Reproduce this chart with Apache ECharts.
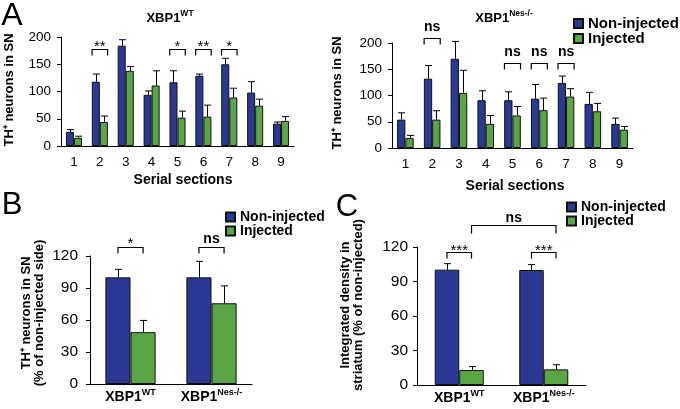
<!DOCTYPE html>
<html><head><meta charset="utf-8">
<script src="https://cdn.jsdelivr.net/npm/echarts@6/dist/echarts.min.js"></script>
<style>html,body{margin:0;padding:0;background:#fff}#c{width:680px;height:409px}</style>
</head><body><div id="c"></div>
<script>
// ---------- data ----------
const sections = ['1','2','3','4','5','6','7','8','9'];
const genotypes = ['WT','Nes-/-'];
const seriesNames = ['Non-injected','Injected'];
// Panel A, XBP1 WT
const wtNonInj    = [26,118,184,94,117,129,150,98,41];
const wtNonInjErr = [4,14,11,7,21,3,11,20,3];
const wtInj       = [15,44,138,111,52,54,89,74,46];
const wtInjErr    = [3,11,8,27,12,21,17,12,8];
// Panel A, XBP1 Nes-/-
const nesNonInj    = [54,132,170,91,91,94,124,84,46];
const nesNonInjErr = [13,25,33,18,16,27,13,22,11];
const nesInj       = [19,54,105,46,62,72,98,70,35];
const nesInjErr    = [5,17,43,16,17,23,15,15,6];
// Panel B (% of non-injected side)
const snNonInj    = [100,100];
const snNonInjErr = [7.5,15];
const snInj       = [48.6,75.7];
const snInjErr    = [11,16.3];
// Panel C (integrated density, % of non-injected)
const stNonInj    = [100.3,100];
const stNonInjErr = [5.2,4.7];
const stInj       = [13,13.6];
const stInjErr    = [3,4];
// tick values
const yTicksA = [0,50,100,150,200];
const yTicksBC = [0,30,60,90,120];
// significance brackets: [cat1, end1(-1 blue / 1 green), cat2, end2, level]
const sigA_WT = [[1,-1,1,1,178],[4,-1,4,1,178],[5,-1,5,1,178],[6,-1,6,1,178]];
const sigA_WT_lab = ['**','*','**','*'];
const sigA_Nes = [[1,-1,1,1,209],[4,-1,4,1,162],[5,-1,5,1,162],[6,-1,6,1,162]];
const sigA_Nes_lab = ['ns','ns','ns','ns'];
const sigB = [[0,-1,0,1,128],[1,-1,1,1,128]];
const sigB_lab = ['*','ns'];
const sigC = [[0,-1,0,1,115.6],[1,-1,1,1,115.6]];
const sigC_lab = ['***','***'];
const sigC2 = [[0,1,1,1,139]];
const sigC2_lab = ['ns'];

// ---------- styling ----------
const FF = 'Liberation Sans, Arial, Helvetica, sans-serif';
const BLUE = '#2b3894', GREEN = '#5aa646';
const chart = echarts.init(document.getElementById('c'), null, {renderer:'canvas'});

function errRender(gap, side){
  return function(params, api){
    const cat = api.value(0), m = api.value(1), e = api.value(2);
    const base = api.coord([cat, m]);
    const top = api.coord([cat, m + e]);
    const band = api.size([1,0])[0];
    const bw = band*(1-gap)/2;
    const x = Math.round(base[0] + side*bw/2) + 0.5;
    const cap = 3.5;
    return {type:'group', children:[
      {type:'line', shape:{x1:x,y1:base[1],x2:x,y2:top[1]}, style:{stroke:'#000',lineWidth:1}},
      {type:'line', shape:{x1:x-cap,y1:top[1],x2:x+cap,y2:top[1]}, style:{stroke:'#000',lineWidth:1}}
    ]};
  };
}
function bracketRender(frac, labels, leg, gapAbove){
  return function(params, api){
    const band = api.size([1,0])[0];
    const y = Math.round(api.coord([api.value(0), api.value(4)])[1]) + 0.5;
    const x1 = api.coord([api.value(0), 0])[0] + api.value(1)*band*frac;
    const x2 = api.coord([api.value(2), 0])[0] + api.value(3)*band*frac;
    const lab = labels[params.dataIndex];
    const ast = lab.indexOf('*') >= 0;
    const ty = y - gapAbove + (ast ? 4 : -1);
    return {type:'group', children:[
      {type:'polyline', shape:{points:[[x1,y+leg],[x1,y],[x2,y],[x2,y+leg]]}, style:{stroke:'#000',lineWidth:1.2,fill:null}},
      {type:'text', x:(x1+x2)/2, y:ty, style:{text:lab, align:'center', verticalAlign:'middle',
        font: ast ? ('15px '+FF) : ('bold 14px '+FF), fill:'#000'}}
    ]};
  };
}
function errData(cats, means, errs){ return cats.map((c,i)=>[i, means[i], errs[i]]); }

function xAx(grid, data, fs, margin, rich){
  const o = {type:'category', gridIndex:grid, data:data,
    axisLine:{lineStyle:{color:'#000',width:1}},
    axisTick:{length:4, lineStyle:{color:'#000'}},
    axisLabel:{color:'#000', fontSize:fs, fontFamily:FF, margin:margin, interval:0}};
  if (rich){
    o.axisLabel.formatter = v => '{b|XBP1}{s|' + v + '}';
    o.axisLabel.rich = {b:{fontSize:14,fontWeight:'bold',fontFamily:FF,color:'#000',lineHeight:16,verticalAlign:'bottom'},
                        s:{fontSize:9,fontWeight:'bold',fontFamily:FF,color:'#000',verticalAlign:'top',lineHeight:16}};
  }
  return o;
}
function yAx(grid, ticks, fs, margin){
  return {type:'value', gridIndex:grid, min:ticks[0], max:ticks[ticks.length-1], interval:ticks[1]-ticks[0],
    splitLine:{show:false},
    axisLine:{show:true, lineStyle:{color:'#000',width:1}},
    axisTick:{show:true, length:4, lineStyle:{color:'#000'}},
    axisLabel:{color:'#000', fontSize:fs, fontFamily:FF, margin:margin}};
}
function bars(grid, nonInj, inj, gap){
  const st = c => ({color:c, borderColor:'#111', borderWidth:1});
  return [
    {type:'bar', name:seriesNames[0], xAxisIndex:grid, yAxisIndex:grid, data:nonInj, barGap:'0%', barCategoryGap:gap+'%', itemStyle:st(BLUE), emphasis:{disabled:true}},
    {type:'bar', name:seriesNames[1], xAxisIndex:grid, yAxisIndex:grid, data:inj, barGap:'0%', barCategoryGap:gap+'%', itemStyle:st(GREEN), emphasis:{disabled:true}}
  ];
}
function errs(grid, cats, nonInj, nonInjErr, inj, injErr, gap){
  return [
    {type:'custom', xAxisIndex:grid, yAxisIndex:grid, data:errData(cats, nonInj, nonInjErr), renderItem:errRender(gap/100,-1), z:5, silent:true},
    {type:'custom', xAxisIndex:grid, yAxisIndex:grid, data:errData(cats, inj, injErr), renderItem:errRender(gap/100,1), z:5, silent:true}
  ];
}
function brackets(grid, data, labels, frac, leg, gapAbove){
  return {type:'custom', xAxisIndex:grid, yAxisIndex:grid, data:data, renderItem:bracketRender(frac, labels, leg, gapAbove), z:6, silent:true, clip:false};
}
function legend(left, top, fs){
  return {data:seriesNames, orient:'vertical', left:left, top:top, padding:0, icon:'rect', itemWidth:9, itemHeight:9, itemGap:0,
    selectedMode:false,
    textStyle:{fontSize:fs, fontWeight:'bold', fontFamily:FF, color:'#000', lineHeight:14}};
}
function rtext(x, y, txt, fs, lh){
  return {type:'text', x:x, y:y, rotation:Math.PI/2,
    style:{text:txt, align:'center', verticalAlign:'middle', font:'bold '+fs+'px '+FF, fill:'#000', lineHeight:lh||fs}};
}
function supTitle(x, y, main, sup){
  return {type:'text', x:x, y:y, style:{text:'{a|'+main+'}{s|'+sup+'}', align:'center', verticalAlign:'middle',
    rich:{a:{font:'bold 13px '+FF, fill:'#000', lineHeight:15, verticalAlign:'bottom'},
          s:{font:'bold 8.5px '+FF, fill:'#000', lineHeight:15, verticalAlign:'top'}}}};
}

const gA = 38, gB = 38, gC = 42;
const option = {
  animation:false,
  backgroundColor:'#fff',
  grid:[
    {left:61, top:37, width:233, height:109},
    {left:392, top:43, width:241, height:105},
    {left:90, top:256, width:162, height:128},
    {left:417, top:247, width:169, height:138}
  ],
  xAxis:[ xAx(0, sections, 13.5, 9), xAx(1, sections, 13.5, 9), xAx(2, genotypes, 13, 4, true), xAx(3, genotypes, 13, 4, true) ],
  yAxis:[ yAx(0, yTicksA, 13.5, 10), yAx(1, yTicksA, 13.5, 10), yAx(2, yTicksBC, 15.5, 12), yAx(3, yTicksBC, 15.5, 9) ],
  legend:[ legend(573, 16, 15), legend(225, 210, 14), legend(566, 200, 14) ],
  series:[].concat(
    bars(0, wtNonInj, wtInj, gA), errs(0, sections, wtNonInj, wtNonInjErr, wtInj, wtInjErr, gA),
    bars(1, nesNonInj, nesInj, gA), errs(1, sections, nesNonInj, nesNonInjErr, nesInj, nesInjErr, gA),
    bars(2, snNonInj, snInj, gB), errs(2, genotypes, snNonInj, snNonInjErr, snInj, snInjErr, gB),
    bars(3, stNonInj, stInj, gC), errs(3, genotypes, stNonInj, stNonInjErr, stInj, stInjErr, gC),
    [ brackets(0, sigA_WT, sigA_WT_lab, 0.3, 6, 6.5),
      brackets(1, sigA_Nes, sigA_Nes_lab, 0.3, 6, 10),
      brackets(2, sigB, sigB_lab, (1-gB/100)/4, 6, 7.7),
      brackets(3, sigC, sigC_lab, (1-gC/100)/4, 6, 6),
      brackets(3, sigC2, sigC2_lab, (1-gC/100)/4, 8, 6) ]
  ),
  graphic:[
    {type:'text', x:12, y:16, style:{text:'A', align:'center', verticalAlign:'middle', font:'32px '+FF, fill:'#000'}},
    {type:'text', x:12, y:205, style:{text:'B', align:'center', verticalAlign:'middle', font:'31px '+FF, fill:'#000'}},
    {type:'text', x:347, y:207, style:{text:'C', align:'center', verticalAlign:'middle', font:'31px '+FF, fill:'#000'}},
    supTitle(170, 17, 'XBP1', 'WT'),
    supTitle(504, 17, 'XBP1', 'Nes-/-'),
    rtext(9, 90, 'TH\u207A neurons in SN', 13),
    rtext(337, 93, 'TH\u207A neurons in SN', 13),
    rtext(33, 313, 'TH\u207A neurons in SN\n(% of non-injected side)', 13, 13),
    rtext(352, 305, 'Integrated density in\nstriatum (% of non-injected)', 13, 13),
    {type:'text', x:183, y:180, style:{text:'Serial sections', align:'center', verticalAlign:'middle', font:'bold 14px '+FF, fill:'#000'}},
    {type:'text', x:515, y:186, style:{text:'Serial sections', align:'center', verticalAlign:'middle', font:'bold 14px '+FF, fill:'#000'}}
  ]
};
chart.setOption(option);
</script>
</body></html>
